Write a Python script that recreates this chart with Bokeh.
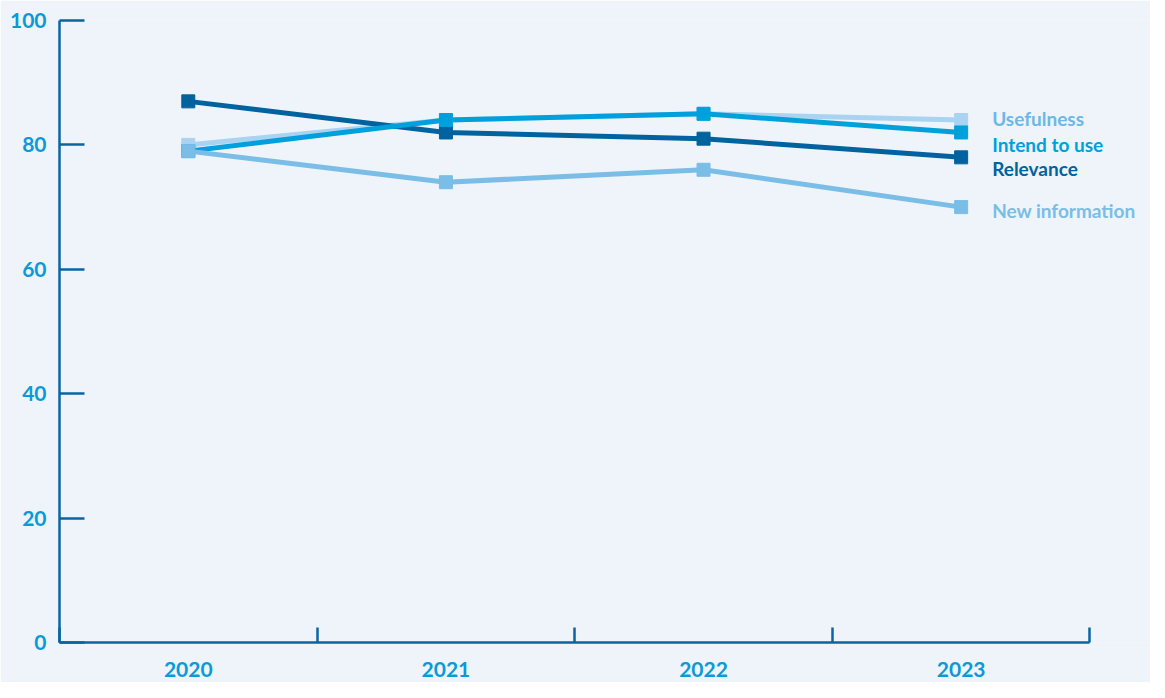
from bokeh.plotting import figure
from bokeh.models import FixedTicker, Label, Range1d
from bokeh.embed import file_html
from bokeh.resources import INLINE

# ---- data ----
years = ["2020", "2021", "2022", "2023"]
usefulness = [80, 84, 85, 84]
intend_to_use = [79, 84, 85, 82]
relevance = [87, 82, 81, 78]
new_information = [79, 74, 76, 70]
y_ticks = [0, 20, 40, 60, 80, 100]

series = [
    ("Usefulness", usefulness, "#a9d3f0", "#6db8e6", 2),
    ("Relevance", relevance, "#00629e", "#00629e", -11),
    ("Intend to use", intend_to_use, "#00a0dd", "#00a0dd", -12),
    ("New information", new_information, "#7abde6", "#7abde6", -3),
]

FONT = "Lato"
AXIS_COL = "#0a64a2"
TICK_TXT = "#0a9ad8"
BG = "#eef4fa"

xs = [i + 0.5 for i in range(len(years))]

p = figure(width=1150, height=682, x_range=Range1d(0, 4.235), y_range=Range1d(0, 100),
           output_backend="svg", toolbar_location=None,
           min_border_left=59, min_border_top=20, min_border_right=0, min_border_bottom=40)
p.background_fill_color = BG
p.border_fill_color = BG
p.outline_line_color = None
p.xgrid.visible = False
p.ygrid.visible = False

for name, vals, col, tcol, off in series:
    p.line(xs, vals, line_color=col, line_width=5)
    p.scatter(xs, vals, marker="square", size=13, fill_color=col, line_color=col)
    lab = Label(x=xs[-1], y=vals[-1], text=name, x_offset=31, y_offset=off,
                text_baseline="middle", text_align="left", text_font=FONT,
                text_font_style="bold", text_font_size="19px", text_color=tcol)
    p.add_layout(lab)

# x axis: boundary ticks as minor ticks, labels at centers
xa = p.xaxis[0]
xa.bounds = (0, len(years))
xa.ticker = FixedTicker(ticks=xs, minor_ticks=list(range(len(years) + 1)))
xa.major_label_overrides = {x: y for x, y in zip(xs, years)}
xa.major_tick_line_color = None
xa.minor_tick_in = 15
xa.minor_tick_out = 0
xa.minor_tick_line_color = AXIS_COL
xa.minor_tick_line_width = 2.5
xa.axis_line_color = AXIS_COL
xa.axis_line_width = 2.5
xa.major_label_text_font = FONT
xa.major_label_text_font_style = "bold"
xa.major_label_text_font_size = "21px"
xa.major_label_text_color = TICK_TXT
xa.major_label_standoff = 13

ya = p.yaxis[0]
ya.ticker = FixedTicker(ticks=y_ticks)
ya.major_tick_in = 25
ya.major_tick_out = 0
ya.major_tick_line_color = AXIS_COL
ya.major_tick_line_width = 2.5
ya.minor_tick_line_color = None
ya.axis_line_color = AXIS_COL
ya.axis_line_width = 2.5
ya.major_label_text_font = FONT
ya.major_label_text_font_style = "bold"
ya.major_label_text_font_size = "21px"
ya.major_label_text_color = TICK_TXT
ya.major_label_standoff = 13

open("out.html", "w").write(file_html(p, INLINE))
